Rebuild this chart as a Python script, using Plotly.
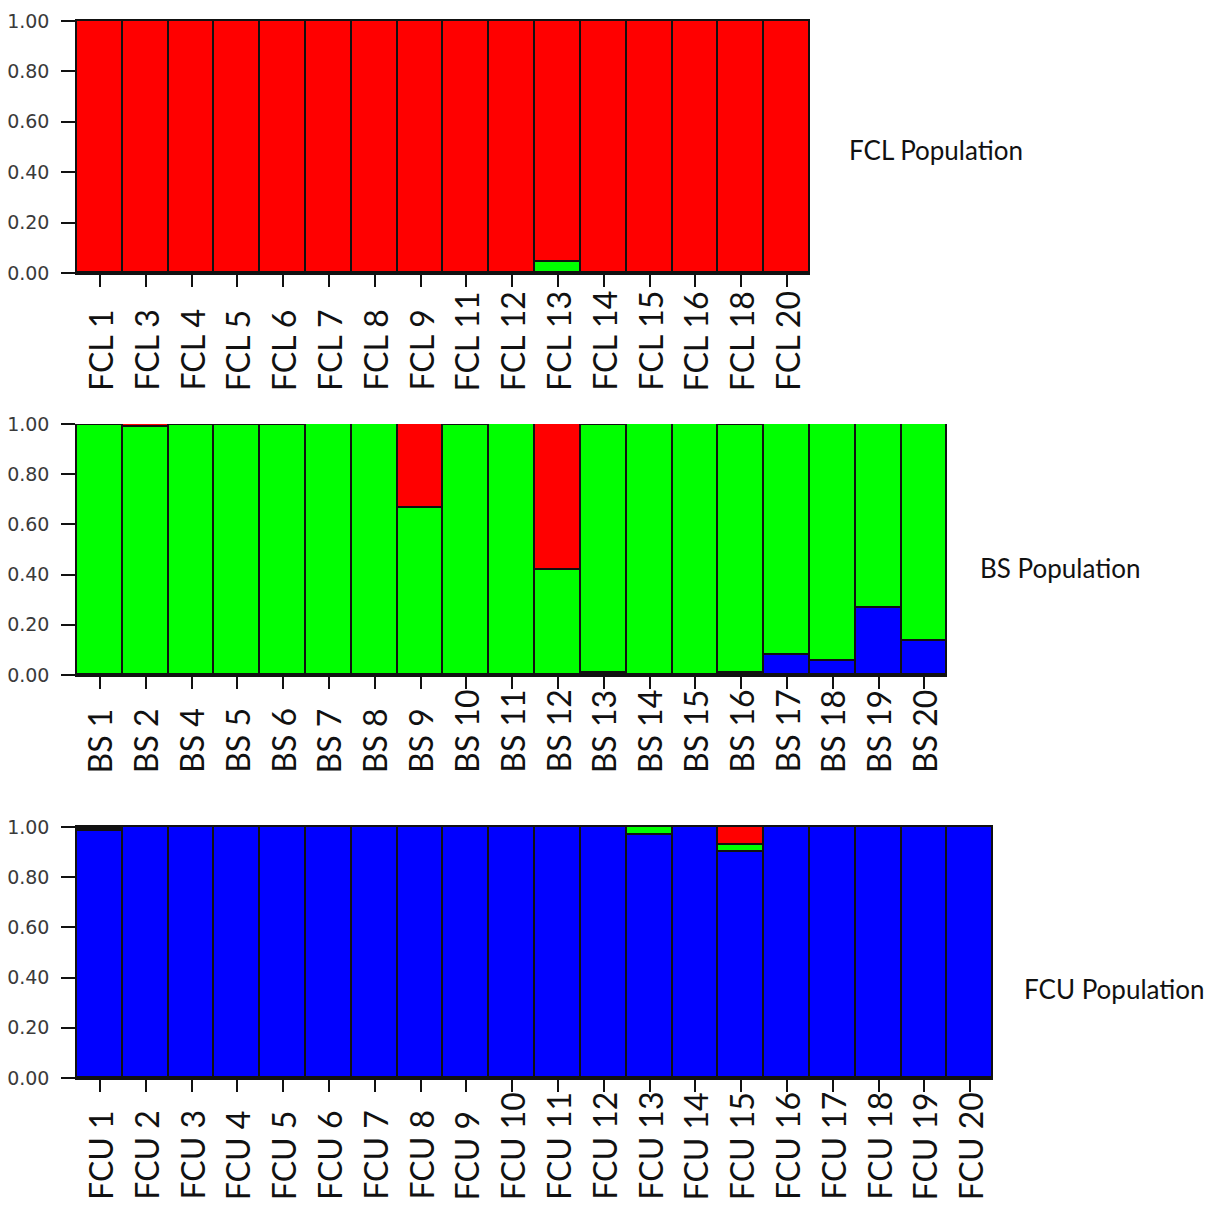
import plotly.graph_objects as go

# Individuals in each sampled population
fcl_ids = ["FCL 1", "FCL 3", "FCL 4", "FCL 5", "FCL 6", "FCL 7", "FCL 8", "FCL 9",
           "FCL 11", "FCL 12", "FCL 13", "FCL 14", "FCL 15", "FCL 16", "FCL 18", "FCL 20"]
bs_ids = ["BS 1", "BS 2", "BS 4", "BS 5", "BS 6", "BS 7", "BS 8", "BS 9", "BS 10", "BS 11",
          "BS 12", "BS 13", "BS 14", "BS 15", "BS 16", "BS 17", "BS 18", "BS 19", "BS 20"]
fcu_ids = ["FCU 1", "FCU 2", "FCU 3", "FCU 4", "FCU 5", "FCU 6", "FCU 7", "FCU 8", "FCU 9",
           "FCU 10", "FCU 11", "FCU 12", "FCU 13", "FCU 14", "FCU 15", "FCU 16", "FCU 17",
           "FCU 18", "FCU 19", "FCU 20"]

# Membership coefficients (K = 3): blue, green, red clusters
fcl_blue = [0] * 16
fcl_green = [0, 0, 0, 0, 0, 0, 0, 0, 0, 0, 0.042, 0, 0, 0, 0, 0]
fcl_red = [1, 1, 1, 1, 1, 1, 1, 1, 1, 1, 0.958, 1, 1, 1, 1, 1]

bs_blue = [0, 0, 0, 0, 0, 0, 0, 0, 0, 0, 0, 0.006, 0, 0, 0.008, 0.08, 0.057, 0.265, 0.137]
bs_green = [0.996, 0.988, 0.996, 0.996, 0.996, 1.0, 1.0, 0.665, 0.996, 1.0,
            0.42, 0.99, 1.0, 1.0, 0.988, 0.92, 0.943, 0.735, 0.863]
bs_red = [0.004, 0.012, 0.004, 0.004, 0.004, 0, 0, 0.335, 0.004, 0,
          0.58, 0.004, 0, 0, 0.004, 0, 0, 0, 0]

fcu_blue = [0.985, 1, 1, 1, 1, 1, 1, 1, 1, 1, 1, 1, 0.97, 1, 0.90, 1, 1, 1, 1, 1]
fcu_green = [0.008, 0, 0, 0, 0, 0, 0, 0, 0, 0, 0, 0, 0.03, 0, 0.03, 0, 0, 0, 0, 0]
fcu_red = [0.007, 0, 0, 0, 0, 0, 0, 0, 0, 0, 0, 0, 0, 0, 0.07, 0, 0, 0, 0, 0]

y_ticks = [0, 0.2, 0.4, 0.6, 0.8, 1.0]
panel_titles = ["FCL Population", "BS Population", "FCU Population"]

W, H = 1218, 1209
BAR_PX = 45.81
LEFT_PX = 77

colors = {"blue": "#0000FF", "green": "#00FF00", "red": "#FF0000"}

# ids, blue, green, red, axis-bottom px, axis-top px, label-base px, title pos, top border
panels = [
    (fcl_ids, fcl_blue, fcl_green, fcl_red, 273, 21, 393, (847, 150), True),
    (bs_ids, bs_blue, bs_green, bs_red, 675, 424, 775, (978, 568), False),
    (fcu_ids, fcu_blue, fcu_green, fcu_red, 1078, 827, 1202, (1022, 989), True),
]

fig = go.Figure()
annotations = []
layout_axes = {}

for i, (ids, blue, green, red, y0px, y1px, lab_px, title_px, top_line) in enumerate(panels):
    n = i + 1
    xa = "x" if n == 1 else f"x{n}"
    ya = "y" if n == 1 else f"y{n}"
    for name, vals in (("blue", blue), ("green", green), ("red", red)):
        fig.add_trace(go.Bar(
            x=ids, y=vals, xaxis=xa, yaxis=ya,
            marker=dict(color=colors[name], line=dict(color="#111111", width=1.8)),
            showlegend=False, hoverinfo="x+y",
        ))
    x_end = (LEFT_PX + BAR_PX * len(ids)) / W
    xkey = "xaxis" if n == 1 else f"xaxis{n}"
    ykey = "yaxis" if n == 1 else f"yaxis{n}"
    layout_axes[xkey] = dict(
        domain=[LEFT_PX / W, x_end], anchor=ya, type="category", automargin=False,
        showticklabels=False, ticks="outside", ticklen=12, tickwidth=1.5,
        tickcolor="#111111", showline=True, linecolor="#111111", linewidth=2,
        mirror=top_line, showgrid=False, zeroline=False, fixedrange=True,
    )
    layout_axes[ykey] = dict(
        domain=[1 - y0px / H, 1 - y1px / H], anchor=xa, range=[0, 1], automargin=False,
        tickvals=y_ticks, tickformat=".2f", ticks="outside", ticklen=14,
        tickwidth=1.5, tickcolor="#111111", showline=True, linecolor="#111111",
        linewidth=1.5, showgrid=False, zeroline=False, ticklabelstandoff=8,
        tickfont=dict(family="DejaVu Sans", size=19, color="#3a3a3a"),
    )
    # Rotated individual labels under each bar
    for lab in ids:
        annotations.append(dict(
            x=lab, xref=xa, y=1 - lab_px / H, yref="paper", text=lab,
            textangle=-90, showarrow=False, xanchor="center", yanchor="bottom",
            font=dict(family="Lato", size=32, color="#111111"),
        ))
    annotations.append(dict(
        x=title_px[0] / W, xref="paper", y=1 - title_px[1] / H, yref="paper",
        text=panel_titles[i], showarrow=False, xanchor="left", yanchor="middle",
        font=dict(family="Lato", size=26, color="#111111"),
    ))

fig.update_layout(
    width=W, height=H, margin=dict(l=0, r=0, t=0, b=0, autoexpand=False),
    barmode="stack", bargap=0, plot_bgcolor="white", paper_bgcolor="white",
    annotations=annotations, **layout_axes,
)

fig.write_html("out.html")
